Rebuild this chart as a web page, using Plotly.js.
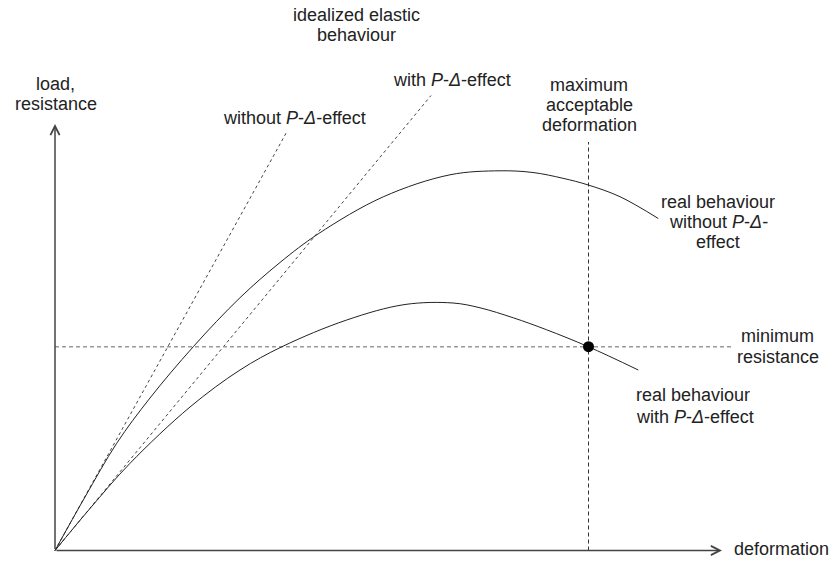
<!DOCTYPE html>
<html>
<head>
<meta charset="utf-8">
<script src="https://cdn.plot.ly/plotly-3.0.1.min.js"></script>
<style>
  html, body { margin: 0; padding: 0; background: #ffffff; }
  #chart { width: 830px; height: 561px; }
</style>
</head>
<body>
<div id="chart"></div>
<script>
// ---- data (deformation / load in arbitrary units) ----
var elasticNoPD_x = [0, 23.2];
var elasticNoPD_y = [0, 41.9];
var elasticPD_x = [0, 37.6];
var elasticPD_y = [0, 45.5];

var realNoPD_x = [0, 3.0, 6.17, 9.5, 13.83, 18.5, 22.5, 26.33, 32.83, 39.5, 44.5, 47.8, 50.8, 53.33, 56.5, 60.33];
var realNoPD_y = [0, 5.35, 10.72, 15.25, 20.38, 25.28, 28.8, 31.67, 35.37, 37.57, 37.97, 37.8, 37.22, 36.55, 35.38, 33.2];

var realPD_x = [0, 3.5, 7.5, 13.5, 18.5, 22.7, 29.17, 35.0, 39.8, 42.5, 45.83, 49.17, 53.33, 58.33];
var realPD_y = [0, 4.2, 8.72, 14.35, 18.05, 20.38, 23.05, 24.6, 24.75, 24.27, 23.27, 22.07, 20.38, 18.05];

var minResistance = 20.38;
var minResExtent = [0, 67.67];
var maxDeformation = 53.35;
var maxDefExtent = [0, 40.85];

var xAxisEnd = 66.7;
var yAxisEnd = 42.65;

// labels
var labels = [
  {text: "idealized elastic", x: 30.17, y: 53.55},
  {text: "behaviour", x: 30.17, y: 51.55},
  {text: "with <i>P</i>-<i>Δ</i>-effect", x: 39.67, y: 47.05},
  {text: "without <i>P</i>-<i>Δ</i>-effect", x: 23.92, y: 43.22},
  {text: "load,", x: 0.05, y: 46.65},
  {text: "resistance", x: 0.05, y: 44.65},
  {text: "maximum", x: 53.42, y: 46.6},
  {text: "acceptable", x: 53.42, y: 44.6},
  {text: "deformation", x: 53.42, y: 42.6},
  {text: "real behaviour", x: 66.25, y: 34.88},
  {text: "without <i>P</i>-<i>Δ</i>-", x: 66.33, y: 32.88},
  {text: "effect", x: 66.33, y: 30.88},
  {text: "minimum", x: 72.25, y: 21.48},
  {text: "resistance", x: 72.25, y: 19.38},
  {text: "real behaviour", x: 63.83, y: 15.55},
  {text: "with <i>P</i>-<i>Δ</i>-effect", x: 64.0, y: 13.38},
  {text: "deformation", x: 72.67, y: 0.2}
];

var textColor = "#222222";
var fontFam = "Liberation Sans, Arial, sans-serif";

var traces = [
  {x: elasticNoPD_x, y: elasticNoPD_y, mode: "lines", line: {color: "#444", width: 1, dash: "3px,3px"}, hoverinfo: "skip"},
  {x: elasticPD_x, y: elasticPD_y, mode: "lines", line: {color: "#444", width: 1, dash: "3px,3px"}, hoverinfo: "skip"},
  {x: [minResExtent[0], minResExtent[1]], y: [minResistance, minResistance], mode: "lines", line: {color: "#9a9a9a", width: 1.5, dash: "4px,3px"}, hoverinfo: "skip"},
  {x: [maxDeformation, maxDeformation], y: [maxDefExtent[0], maxDefExtent[1]], mode: "lines", line: {color: "#333", width: 1, dash: "4px,3px"}, hoverinfo: "skip"},
  {x: realNoPD_x, y: realNoPD_y, mode: "lines", line: {color: "#222", width: 1, shape: "spline", smoothing: 1}, hoverinfo: "skip"},
  {x: realPD_x, y: realPD_y, mode: "lines", line: {color: "#222", width: 1, shape: "spline", smoothing: 1}, hoverinfo: "skip"},
  {x: [maxDeformation], y: [minResistance], mode: "markers", marker: {color: "#000", size: 11}, hoverinfo: "skip"}
];

var annotations = labels.map(function (l) {
  return {
    x: l.x, y: l.y, xref: "x", yref: "y", text: l.text, showarrow: false,
    xanchor: "center", yanchor: "middle",
    font: {family: fontFam, size: 18, color: textColor}
  };
});

// axes with arrow heads
annotations.push({
  x: xAxisEnd, y: 0, ax: 0, ay: 0, xref: "x", yref: "y", axref: "x", ayref: "y",
  text: "", showarrow: true, arrowhead: 5, arrowsize: 1.2, arrowwidth: 1.5, arrowcolor: "#444", standoff: 0
});
annotations.push({
  x: 0, y: yAxisEnd, ax: 0, ay: 0, xref: "x", yref: "y", axref: "x", ayref: "y",
  text: "", showarrow: true, arrowhead: 5, arrowsize: 1.2, arrowwidth: 1.5, arrowcolor: "#444", standoff: 0
});

var layout = {
  width: 830, height: 561,
  margin: {l: 0, r: 0, t: 0, b: 0, pad: 0},
  paper_bgcolor: "#ffffff", plot_bgcolor: "#ffffff",
  showlegend: false,
  xaxis: {range: [-5.5, 77.5], visible: false, fixedrange: true},
  yaxis: {range: [-1.05, 55.05], visible: false, fixedrange: true},
  annotations: annotations
};

Plotly.newPlot("chart", traces, layout, {displayModeBar: false, staticPlot: true});
</script>
</body>
</html>
